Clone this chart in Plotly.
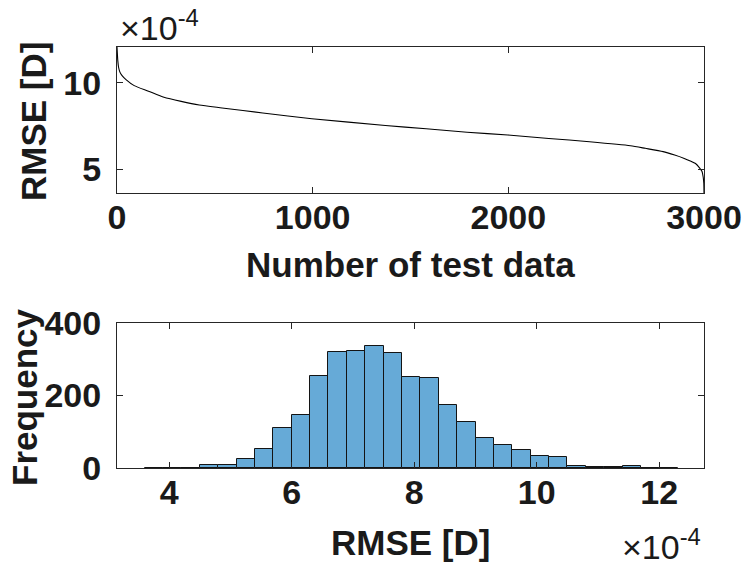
import plotly.graph_objects as go

# ---- Data (RMSE in units of 1e-4 D) ----
curve_index = [0, 4, 8, 15, 25, 46, 88, 161, 240, 328, 420, 537, 745, 996, 1372,
               1580, 1789, 1998, 2207, 2415, 2624, 2700, 2791, 2850, 2896, 2930,
               2958, 2975, 2990, 2996, 2999, 3000]
curve_rmse = [12.07, 11.3, 10.9, 10.62, 10.43, 10.19, 9.84, 9.52, 9.17, 8.93, 8.72,
              8.55, 8.26, 7.93, 7.54, 7.35, 7.15, 6.99, 6.79, 6.6, 6.37, 6.22, 6.03,
              5.83, 5.65, 5.49, 5.33, 5.12, 4.88, 4.55, 4.2, 3.64]

bin_edges = [3.6, 3.9, 4.2, 4.5, 4.8, 5.1, 5.4, 5.7, 6.0, 6.3, 6.6, 6.9, 7.2, 7.5,
             7.8, 8.1, 8.4, 8.7, 9.0, 9.3, 9.6, 9.9, 10.2, 10.5, 10.8, 11.1, 11.4,
             11.7, 12.0, 12.3]
bin_counts = [1, 0, 1, 7, 9, 26, 53, 111, 146, 255, 320, 324, 337, 316, 251, 249,
              175, 128, 84, 64, 51, 32, 29, 6, 4, 3, 5, 0, 1]

top_xticks = [0, 1000, 2000, 3000]
top_yticks = [5, 10]
bot_xticks = [4, 6, 8, 10, 12]
bot_yticks = [0, 200, 400]

bin_centers = [(a + b) / 2 for a, b in zip(bin_edges[:-1], bin_edges[1:])]
bin_widths = [b - a for a, b in zip(bin_edges[:-1], bin_edges[1:])]

FONT = "Liberation Sans"
AX = "#262626"
TXT = "#1a1a1a"
TICKSIZE = 34
LABELSIZE = 35

fig = go.Figure()
fig.add_trace(go.Scatter(x=curve_index, y=curve_rmse, mode="lines",
                         line=dict(color="black", width=1.1, shape="spline",
                                   smoothing=0.6),
                         xaxis="x", yaxis="y", showlegend=False))
fig.add_trace(go.Bar(x=bin_centers, y=bin_counts, width=bin_widths,
                     marker=dict(color="rgb(102,170,215)",
                                 line=dict(color="rgb(20,20,20)", width=1)),
                     xaxis="x2", yaxis="y2", showlegend=False))

W, H = 743, 570
def dx(p): return p / W
def dy(p): return 1 - p / H

common = dict(showline=True, linecolor=AX, linewidth=1, mirror="ticks",
              ticks="inside", ticklen=6, tickcolor=AX, showgrid=False,
              zeroline=False, automargin=False,
              tickfont=dict(family=FONT, size=TICKSIZE, color=TXT, weight="bold"))

def label(text, x, y, angle=0, size=LABELSIZE):
    return dict(text=text, xref="paper", yref="paper", x=dx(x), y=dy(y),
                xanchor="center", yanchor="middle", showarrow=False, textangle=angle,
                font=dict(family=FONT, size=size, color=TXT, weight="bold"))

fig.update_layout(
    width=W, height=H, margin=dict(l=0, r=0, t=0, b=0),
    paper_bgcolor="white", plot_bgcolor="white",
    font=dict(family=FONT, color=TXT),
    bargap=0,
    xaxis=dict(domain=[dx(117), dx(704)], range=[0, 3000], tickvals=top_xticks,
               anchor="y", ticklabelstandoff=-6, **common),
    yaxis=dict(domain=[dy(193), dy(47)], range=[3.64, 12.07], tickvals=top_yticks,
               anchor="x", ticklabelstandoff=8, **common),
    xaxis2=dict(domain=[dx(117), dx(704)], range=[3.148, 12.73], tickvals=bot_xticks,
                anchor="y2", ticklabelstandoff=-6, **common),
    yaxis2=dict(domain=[dy(468), dy(323)], range=[0, 400], tickvals=bot_yticks,
                anchor="x2", ticklabelstandoff=8, **common),
    annotations=[
        label("RMSE [D]", 33, 122, angle=-90),
        label("Number of test data", 410, 264),
        label("Frequency", 25, 397, angle=-90),
        label("RMSE [D]", 410, 542),
        dict(text="×10<sup>-4</sup>", xref="paper", yref="paper",
             x=dx(119), y=dy(3), xanchor="left", yanchor="top", showarrow=False,
             borderpad=0, font=dict(family=FONT, size=34, color=TXT)),
        dict(text="×10<sup>-4</sup>", xref="paper", yref="paper",
             x=dx(702), y=dy(567), xanchor="right", yanchor="bottom", showarrow=False,
             borderpad=0, font=dict(family=FONT, size=34, color=TXT)),
    ],
)

fig.write_html(
    "out.html",
    config={"displayModeBar": False},
    post_script="document.body.style.margin='0';document.body.style.overflow='hidden';",
)
